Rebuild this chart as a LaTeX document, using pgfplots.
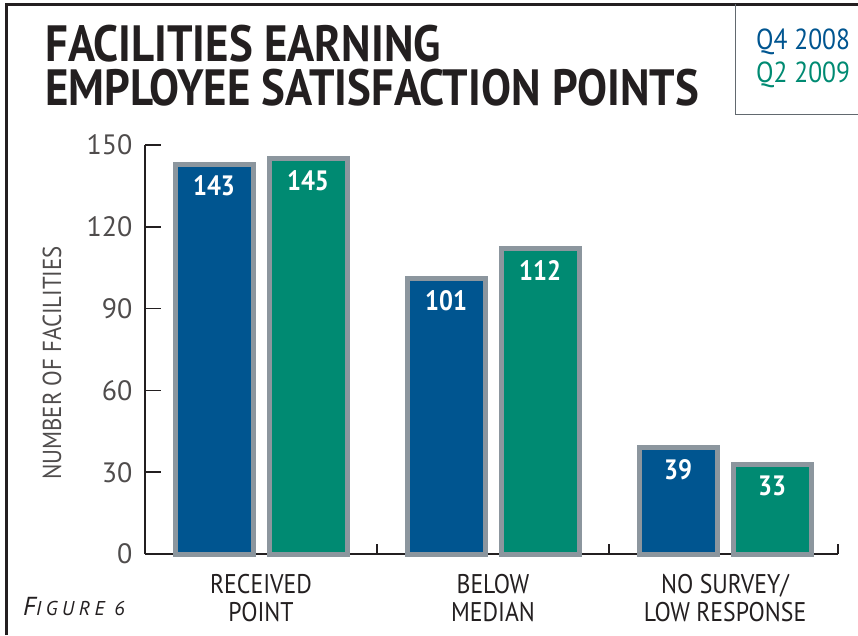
\documentclass[border=0pt]{standalone}
\usepackage{fontspec}
\setmainfont{PT Sans}
\newfontfamily\cond{PT Sans}[FakeStretch=0.88]
\newfontfamily\figfont{PT Sans}[LetterSpace=22]
\usepackage{pgfplots}
\pgfplotsset{compat=1.18}
\definecolor{cblue}{HTML}{005590}
\definecolor{cgreen}{HTML}{008A72}
\definecolor{cgray}{HTML}{8C969E}
\definecolor{ctext}{HTML}{231F20}
\begin{document}
\begin{tikzpicture}[x=1pt,y=1pt]
\useasboundingbox (0,0) rectangle (858,635);
\draw[line width=3pt, ctext] (6,0) -- (6,630) -- (858,630);
\draw[line width=1pt, cgray!70!black] (735,631) -- (735,520) -- (858,520);
\node[anchor=base west, text=cblue, font=\cond\fontsize{29}{32}\selectfont, inner sep=0] at (756,585) {Q4 2008};
\node[anchor=base west, text=cgreen, font=\cond\fontsize{29}{32}\selectfont, inner sep=0] at (756,552) {Q2 2009};
\node[anchor=base west, text=ctext, font=\cond\bfseries\fontsize{51}{44}\selectfont, inner sep=0, align=left] at (45,529) {FACILITIES EARNING\\EMPLOYEE SATISFACTION POINTS};
\node[anchor=base west, text=ctext, font=\figfont\itshape\fontsize{26}{28}\selectfont, inner sep=0] at (23,20) {F{\fontsize{20}{22}\selectfont IGURE 6}};
\begin{axis}[
  scale only axis, width=693pt, height=409pt,
  at={(145pt,81pt)}, anchor=south west,
  xmin=-0.5, xmax=2.487, ymin=0, ymax=150,
  axis x line=bottom, axis y line=left,
  axis line style={-, line width=1.5pt, ctext},
  ytick={0,30,60,90,120,150},
  tick style={line width=1.5pt, ctext},
  ytick align=inside,
  major tick length=16pt,
  xtick={0,1,2},
  xticklabels={{RECEIVED\\POINT},{BELOW\\MEDIAN},{NO SURVEY/\\LOW RESPONSE}},
  x tick style={draw=none},
  extra x ticks={0.5,1.5,2.487},
  extra x tick labels={},
  extra x tick style={x tick style={draw=ctext, line width=1.5pt}, major tick length=10pt, xtick align=inside},
  /pgf/number format/assume math mode=true,
  yticklabel style={font=\rmfamily\fontsize{28}{30}\selectfont, text=ctext!80, xshift=-9pt},
  xticklabel style={font=\cond\fontsize{27}{28}\selectfont, text=ctext, align=center, yshift=-1pt},
  ylabel={NUMBER OF FACILITIES},
  ylabel style={font=\cond\fontsize{26}{28}\selectfont, text=ctext!80, at={(axis description cs:-0.134,0.467)}, anchor=center},
  ybar, bar width=78pt,
  clip=false,
  nodes near coords,
  every node near coord/.append style={anchor=north, yshift=-6pt, text=white, font=\cond\bfseries\fontsize{28}{30}\selectfont},
]
\addplot[fill=cblue, draw=cgray, line width=5pt, bar shift=-47pt] coordinates {(0,143) (1,101) (2,39)};
\addplot[fill=cgreen, draw=cgray, line width=5pt, bar shift=47pt] coordinates {(0,145) (1,112) (2,33)};
\end{axis}
\end{tikzpicture}
\end{document}
